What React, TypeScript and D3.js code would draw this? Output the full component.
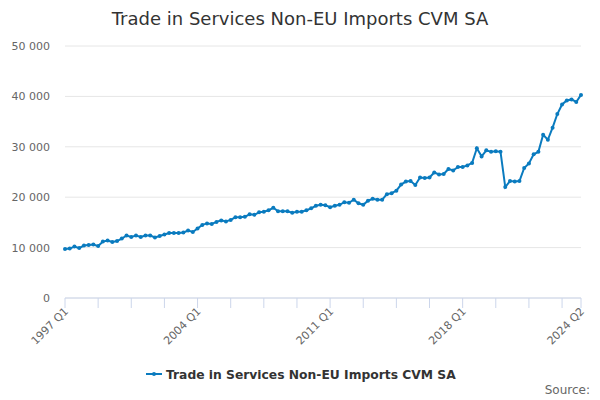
import React from "react";
import * as d3 from "d3";

const years = d3.range(1997, 2025);
const categories: string[] = [];
years.forEach(y => [1, 2, 3, 4].forEach(q => { if (!(y === 2024 && q > 2)) categories.push(`${y} Q${q}`); }));
const values = [
  9.7, 9.8, 10.2, 9.9, 10.4, 10.5, 10.6, 10.3, 11.2, 11.4, 11.1, 11.3, 11.8, 12.4, 12.1, 12.4,
  12.1, 12.4, 12.4, 12.0, 12.3, 12.6, 12.9, 12.9, 12.9, 13.0, 13.4, 13.1, 13.8, 14.5, 14.8, 14.7,
  15.1, 15.4, 15.2, 15.5, 16.0, 16.0, 16.1, 16.6, 16.5, 17.0, 17.1, 17.4, 17.9, 17.2, 17.2, 17.2,
  16.9, 17.1, 17.1, 17.4, 17.8, 18.3, 18.5, 18.4, 18.0, 18.3, 18.5, 19.0, 18.9, 19.5, 18.8, 18.5,
  19.3, 19.7, 19.5, 19.5, 20.6, 20.8, 21.3, 22.5, 23.1, 23.2, 22.4, 23.9, 23.8, 23.9, 24.9, 24.5,
  24.6, 25.6, 25.3, 26.0, 26.0, 26.3, 26.8, 29.7, 28.1, 29.3, 29.0, 29.1, 29.0, 22.0, 23.2, 23.1,
  23.2, 25.8, 26.7, 28.5, 29.0, 32.4, 31.4, 33.8, 36.5, 38.4, 39.2, 39.4, 38.9, 40.3,
].map(v => v * 1000);
const yTicks = [0, 10000, 20000, 30000, 40000, 50000];
const xLabels = ["1997 Q1", "2004 Q1", "2011 Q1", "2018 Q1", "2024 Q2"];
const title = "Trade in Services Non-EU Imports CVM SA";
const color = "#0a7bbf";

export default function App() {
  const x = d3.scaleLinear().domain([0, categories.length - 1]).range([65, 581]);
  const y = d3.scaleLinear().domain([0, 50000]).range([298, 46]);
  const line = d3.line<number>().x((_, i) => x(i)).y(d => y(d));
  const fmt = (v: number) => d3.format(",")(v).replace(/,/g, " ");
  const minor = d3.range(0, categories.length, 7);
  return (
    <svg width={600} height={400} style={{ position: "absolute", left: 0, top: 0, fontFamily: "DejaVu Sans, sans-serif" }}>
      <rect width={600} height={400} fill="#fff" />
      <text x={300} y={25} textAnchor="middle" fontSize={18} fill="#333">{title}</text>
      {yTicks.map(t => (
        <g key={t}>
          <line x1={65} x2={581} y1={y(t)} y2={y(t)} stroke="#e6e6e6" />
          <text x={50} y={y(t) + 4} textAnchor="end" fontSize={11} fill="#666">{fmt(t)}</text>
        </g>
      ))}
      <line x1={65} x2={581} y1={298} y2={298} stroke="#ccd6eb" />
      {[...minor, categories.length - 1].map(i => (
        <line key={i} x1={x(i)} x2={x(i)} y1={298} y2={308} stroke="#ccd6eb" />
      ))}
      {xLabels.map(l => {
        const i = categories.indexOf(l);
        return (
          <text key={l} transform={`translate(${x(i) + 4},${312}) rotate(-45)`} textAnchor="end" fontSize={11} fill="#666">{l}</text>
        );
      })}
      <path d={line(values) || ""} fill="none" stroke={color} strokeWidth={2} />
      {values.map((v, i) => <circle key={i} cx={x(i)} cy={y(v)} r={2} fill={color} />)}
      <g transform="translate(146,374)">
        <line x1={0} x2={16} y1={0} y2={0} stroke={color} strokeWidth={2} />
        <circle cx={8} cy={0} r={2} fill={color} />
        <text x={20} y={4.5} fontSize={12.3} fontWeight="bold" fill="#333">{title}</text>
      </g>
      <text x={590} y={394} textAnchor="end" fontSize={12} fill="#666">Source:</text>
    </svg>
  );
}
